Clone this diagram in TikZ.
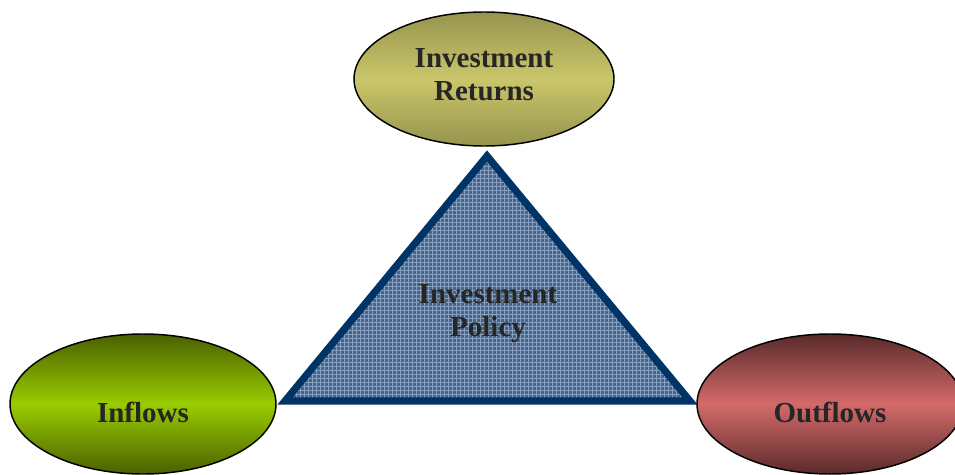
\documentclass[tikz,border=0pt]{standalone}
\usepackage{fontspec}
\setmainfont{Liberation Serif}
\usetikzlibrary{shapes.geometric,patterns}
\definecolor{navy}{RGB}{0,51,102}
\definecolor{triblue}{RGB}{68,100,140}
\definecolor{trigrid}{RGB}{135,160,192}
\definecolor{txt}{RGB}{38,38,38}
\definecolor{olivedark}{RGB}{150,148,78}
\definecolor{olivelight}{RGB}{202,198,106}
\definecolor{greendark}{RGB}{74,96,0}
\definecolor{greenlight}{RGB}{153,204,0}
\definecolor{reddark}{RGB}{90,42,42}
\definecolor{redlight}{RGB}{212,106,106}
\tikzset{
  lbl/.style={font=\fontsize{21.75}{24.75}\selectfont\bfseries, text=txt, align=center},
  oval/.style={ellipse, draw=black, line width=1.1pt, inner sep=0pt,
    minimum width=199.5pt, minimum height=105pt},
  tri/.style={draw=navy, line width=5.4pt, line join=miter},
}
\begin{document}
\begin{tikzpicture}[x=0.75pt,y=-0.75pt]
\useasboundingbox (0,0) rectangle (955,474);
\clip (0,0) rectangle (955,474);
\coordinate (apex) at (487,156);
\coordinate (bl) at (285,401);
\coordinate (br) at (690,401);
\fill[triblue] (apex) -- (bl) -- (br) -- cycle;
\fill[pattern=grid, pattern color=trigrid] (apex) -- (bl) -- (br) -- cycle;
\draw[tri] (apex) -- (bl) -- (br) -- cycle;
\node[lbl] (policy) at (488,314) {Investment\\Policy};
\node[oval, minimum width=195pt, minimum height=100.5pt,
  top color=olivedark, bottom color=olivedark, middle color=olivelight] (returns) at (484,79) {};
\node[lbl] (returnsText) at (484,75) {Investment\\Returns};
\node[oval, top color=greendark, bottom color=greendark, middle color=greenlight] (inflows) at (143,404) {};
\node[lbl] (inflowsText) at (143,412) {Inflows};
\node[oval, top color=reddark, bottom color=reddark, middle color=redlight] (outflows) at (830,404) {};
\node[lbl] (outflowsText) at (830,412) {Outflows};
\end{tikzpicture}
\end{document}
